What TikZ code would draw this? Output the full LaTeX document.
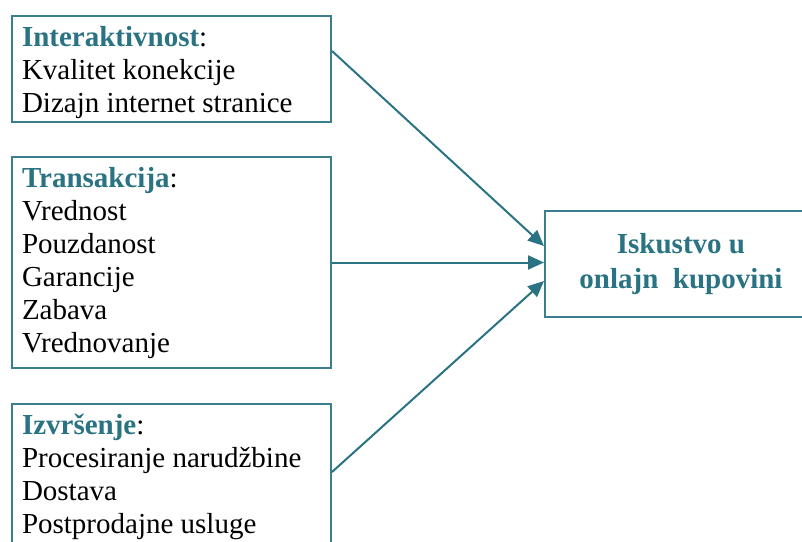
\documentclass[tikz,border=0pt]{standalone}
\usepackage{fontspec}
\setmainfont{Liberation Serif}
\usetikzlibrary{positioning,arrows.meta}
\definecolor{tealText}{HTML}{2A7382}
\definecolor{tealLine}{HTML}{3B7F8E}
\tikzset{
    factorbox/.style={draw=tealLine,line width=1pt,fill=white,inner sep=5pt,
        align=left,anchor=north west,font=\fontsize{14.5}{16.5}\selectfont},
    outcomebox/.style={draw=tealLine,line width=1pt,fill=white,anchor=north west,
        minimum width=136pt,minimum height=53pt,align=center,
        font=\fontsize{14.5}{17.5}\selectfont\bfseries,text=tealText},
    arrow/.style={-{Triangle[length=8pt,width=7pt]},draw=tealText,line width=1pt}
}
\newcommand{\factorhead}[1]{\textcolor{tealText}{\bfseries #1}:}

\begin{document}
\begin{tikzpicture}[x=0.5pt,y=-0.5pt]
    \useasboundingbox (0,0) rectangle (802,541);
    \node[factorbox] (inter) at (11,15) {
        \begin{minipage}[t][43pt][t]{149.5pt}
            \factorhead{Interaktivnost}\\
            Kvalitet konekcije\\
            Dizajn internet stranice
        \end{minipage}};
    \node[factorbox] (trans) [below=16.5pt of inter.south west,anchor=north west] {
        \begin{minipage}[t][95.5pt][t]{149.5pt}
            \factorhead{Transakcija}\\
            Vrednost\\
            Pouzdanost\\
            Garancije\\
            Zabava\\
            Vrednovanje
        \end{minipage}};
    \node[factorbox] (izvr) [below=17pt of trans.south west,anchor=north west] {
        \begin{minipage}[t][63pt][t]{149.5pt}
            \factorhead{Izvršenje}\\
            Procesiranje narudžbine\\
            Dostava\\
            Postprodajne usluge
        \end{minipage}};
    \node[outcomebox] (iskustvo) at (544,210) {Iskustvo u\\onlajn\ \ kupovini};

    \draw[arrow] ([yshift=9pt]inter.east) -- ([yshift=9pt]iskustvo.west);
    \draw[arrow] (trans.east) -- (trans.east -| iskustvo.west);
    \draw[arrow] ([yshift=2.5pt]izvr.east) -- ([yshift=-8.5pt]iskustvo.west);
\end{tikzpicture}
\end{document}
